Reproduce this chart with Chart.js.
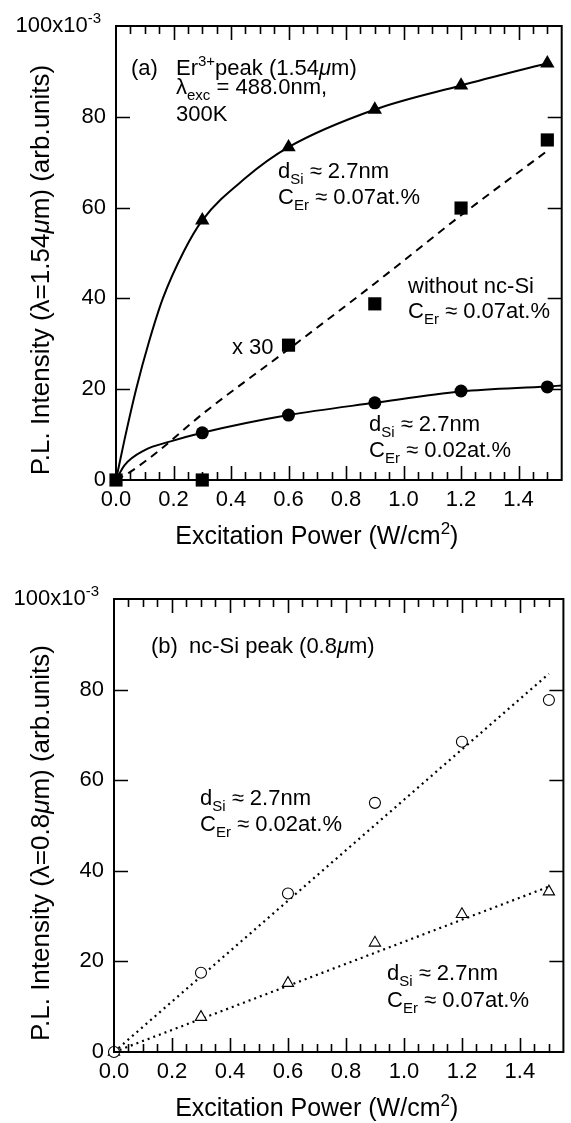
<!DOCTYPE html>
<html>
<head>
<meta charset="utf-8">
<script src="https://cdn.jsdelivr.net/npm/chart.js@4.4.1/dist/chart.umd.min.js"></script>
<style>
  body { margin: 0; background: #fff; }
  canvas { display: block; }
</style>
</head>
<body>
<canvas id="erChart" width="571" height="561"></canvas>
<canvas id="ncChart" width="571" height="562"></canvas>
<script>
// (a) Er3+ peak at 1.54 um, intensity in units of 1e-3
const powerEr = [0.3, 0.6, 0.9, 1.2, 1.5];
const erHighCEr = [57.2, 73.3, 81.6, 86.9, 91.8];   // d_Si 2.7nm, C_Er 0.07at.%
const erLowCEr = [10.4, 14.3, 17.0, 19.6, 20.5];    // d_Si 2.7nm, C_Er 0.02at.%
const powerNoNc = [0, 0.3, 0.6, 0.9, 1.2, 1.5];
const erNoNcSi = [0, 0, 29.7, 38.8, 59.9, 74.9];    // without nc-Si, x30

// guide curves drawn through the (a) points
const guideHighX = [0, 0.03, 0.07, 0.115, 0.163, 0.237, 0.3, 0.45, 0.6, 0.9, 1.2, 1.5];
const guideHighY = [0, 9, 20, 30.5, 40, 50.5, 57.2, 66.5, 73.3, 81.6, 86.9, 91.8];
const guideLowX = [0, 0.03, 0.1, 0.19, 0.3, 0.6, 0.9, 1.2, 1.5, 1.55];
const guideLowY = [0, 3.3, 6.6, 8.5, 10.4, 14.3, 17.0, 19.5, 20.6, 20.8];
const guideNoNcX = [0, 0.05, 0.15, 0.3, 0.6, 0.9, 1.2, 1.5];
const guideNoNcY = [0, 1.8, 6.5, 14.5, 28.8, 43.3, 58.3, 72.5];

// (b) nc-Si peak at 0.8 um
const powerNc = [0, 0.3, 0.6, 0.9, 1.2, 1.5];
const ncLowCEr = [0, 17.5, 35.0, 55.0, 68.5, 77.7];   // C_Er 0.02at.%
const ncHighCEr = [0, 7.7, 15.2, 24.1, 30.4, 35.4];   // C_Er 0.07at.%
const ncFitX = [0, 1.5];
const ncLowFitY = [0, 83.5];
const ncHighFitY = [0, 36.5];

const xTickLabels = ['0.0', '0.2', '0.4', '0.6', '0.8', '1.0', '1.2', '1.4'];
const yTickLabels = ['0', '20', '40', '60', '80'];

const FONT = '"Liberation Sans", Arial, Helvetica, sans-serif';
const X_MAX = 1.55;
const Y_MAX = 100;
const MINOR_STEP = 0.05;

const pts = (xs, ys) => xs.map((x, i) => ({ x: x, y: ys[i] }));

// text with sub/superscripts and italic pieces
function drawRich(ctx, parts, x, y, size, align) {
  const laid = parts.map(p => {
    const s = (p.sub || p.sup) ? Math.round(size * 0.68) : size;
    const font = (p.it ? 'italic ' : '') + s + 'px ' + FONT;
    ctx.font = font;
    return { t: p.t, sub: p.sub, sup: p.sup, font: font, w: ctx.measureText(p.t).width };
  });
  const total = laid.reduce((a, p) => a + p.w, 0);
  let cx = align === 'center' ? x - total / 2 : align === 'right' ? x - total : x;
  ctx.textAlign = 'left';
  laid.forEach(p => {
    ctx.font = p.font;
    const dy = p.sub ? size * 0.28 : p.sup ? -size * 0.42 : 0;
    ctx.fillText(p.t, cx, y + dy);
    cx += p.w;
  });
}

const dSi = [{ t: 'd' }, { t: 'Si', sub: true }, { t: ' \u2248 2.7nm' }];
const cEr = v => [{ t: 'C' }, { t: 'Er', sub: true }, { t: ' \u2248 ' + v + 'at.%' }];
const xTitle = [{ t: 'Excitation Power (W/cm' }, { t: '2', sup: true }, { t: ')' }];
const yTitle = wl => [{ t: 'P.L. Intensity (\u03bb=' + wl }, { t: '\u03bc', it: true }, { t: 'm) (arb.units)' }];

// tick positions along both axes
const xMinorTicks = [];
for (let i = 1; i * MINOR_STEP < X_MAX - 0.01; i++) xMinorTicks.push({ v: +(i * MINOR_STEP).toFixed(2), major: i % 4 === 0 });
const yMajorTicks = [20, 40, 60, 80];

// box frame, inward ticks and text
const framePlugin = {
  id: 'frame',
  afterDatasetsDraw(chart, args, opts) {
    const ctx = chart.ctx;
    const a = chart.chartArea;
    const xs = chart.scales.x;
    const ys = chart.scales.y;
    ctx.save();
    ctx.setLineDash([]);
    ctx.fillStyle = '#000';
    ctx.strokeStyle = '#000';
    ctx.lineWidth = 2;
    ctx.strokeRect(a.left, a.top, a.right - a.left, a.bottom - a.top);

    ctx.lineWidth = 1.6;
    ctx.beginPath();
    xMinorTicks.forEach(t => {
      const px = Math.round(xs.getPixelForValue(t.v)) + 0.5;
      const len = t.major ? 14 : 8;
      ctx.moveTo(px, a.bottom);
      ctx.lineTo(px, a.bottom - len);
      ctx.moveTo(px, a.top);
      ctx.lineTo(px, a.top + len);
    });
    yMajorTicks.forEach(v => {
      const py = Math.round(ys.getPixelForValue(v)) + 0.5;
      ctx.moveTo(a.left, py);
      ctx.lineTo(a.left + 14, py);
      ctx.moveTo(a.right, py);
      ctx.lineTo(a.right - 14, py);
    });
    ctx.stroke();

    ctx.textBaseline = 'alphabetic';
    drawRich(ctx, [{ t: '100x10' }, { t: '-3', sup: true }], a.left - 15, ys.getPixelForValue(Y_MAX) + 6, 22, 'right');
    drawRich(ctx, xTitle, (a.left + a.right) / 2 - 22, a.bottom + 64, 25, 'center');
    ctx.save();
    ctx.translate(49, a.top + 244);
    ctx.rotate(-Math.PI / 2);
    drawRich(ctx, opts.yTitle, 0, 0, 26, 'center');
    ctx.restore();
    opts.notes.forEach(n => drawRich(ctx, n.parts, a.left + n.dx, a.top + n.dy, 22, 'left'));
    ctx.restore();
  }
};

function makeChart(id, datasets, box, yTitleParts, notes) {
  return new Chart(document.getElementById(id), {
    type: 'scatter',
    data: { datasets: datasets },
    plugins: [framePlugin],
    options: {
      responsive: false,
      animation: false,
      devicePixelRatio: 1,
      layout: { padding: { top: box.top, right: box.right, bottom: 0, left: 0 } },
      plugins: {
        legend: { display: false },
        tooltip: { enabled: false },
        frame: { yTitle: yTitleParts, notes: notes }
      },
      scales: {
        x: {
          type: 'linear', min: 0, max: X_MAX,
          grid: { display: false, drawTicks: false },
          border: { display: false },
          ticks: {
            stepSize: 0.2, includeBounds: false, autoSkip: false, maxRotation: 0,
            padding: 7, color: '#000', font: { family: FONT, size: 22 },
            callback: (v, i) => xTickLabels[i] ?? ''
          },
          afterFit: s => { s.height = box.xHeight; }
        },
        y: {
          type: 'linear', min: 0, max: Y_MAX,
          grid: { display: false, drawTicks: false },
          border: { display: false },
          ticks: {
            stepSize: 20, padding: 10, color: '#000', font: { family: FONT, size: 22 },
            callback: (v, i) => yTickLabels[i] ?? ''
          },
          afterFit: s => { s.width = box.yWidth; }
        }
      }
    }
  });
}

const marker = (data, style, r, filled) => ({
  data: data, pointStyle: style, pointRadius: r, clip: false,
  backgroundColor: filled ? '#000' : '#fff', borderColor: '#000', borderWidth: filled ? 0 : 1.1
});
const guide = (data, dash, monotone) => ({
  data: data, showLine: true, pointRadius: 0, borderColor: '#000', borderWidth: dash && dash[0] < 3 ? 2.2 : 2,
  borderDash: dash || [], cubicInterpolationMode: monotone ? 'monotone' : 'default', tension: 0
});

makeChart('erChart', [
  marker(pts(powerEr, erHighCEr), 'triangle', 8.3, true),
  marker(pts(powerNoNc, erNoNcSi), 'rect', 9.3, true),
  marker(pts(powerEr, erLowCEr), 'circle', 6.5, true),
  guide(pts(guideHighX, guideHighY), null, true),
  guide(pts(guideLowX, guideLowY), null, true),
  guide(pts(guideNoNcX, guideNoNcY), [8, 6], true)
], { top: 26, right: 3, xHeight: 81, yWidth: 116 }, yTitle('1.54'), [
  { dx: 15, dy: 49, parts: [{ t: '(a)' }] },
  { dx: 60, dy: 49, parts: [{ t: 'Er' }, { t: '3+', sup: true }, { t: 'peak (1.54' }, { t: '\u03bc', it: true }, { t: 'm)' }] },
  { dx: 60, dy: 68, parts: [{ t: '\u03bb' }, { t: 'exc', sub: true }, { t: ' = 488.0nm,' }] },
  { dx: 60, dy: 95, parts: [{ t: '300K' }] },
  { dx: 162, dy: 152, parts: dSi },
  { dx: 162, dy: 178, parts: cEr('0.07') },
  { dx: 292, dy: 267, parts: [{ t: 'without nc-Si' }] },
  { dx: 292, dy: 292, parts: cEr('0.07') },
  { dx: 116, dy: 328, parts: [{ t: 'x 30' }] },
  { dx: 253, dy: 405, parts: dSi },
  { dx: 253, dy: 431, parts: cEr('0.02') }
]);

makeChart('ncChart', [
  marker(pts(powerNc, ncLowCEr), 'circle', 5.5, false),
  marker(pts(powerNc, ncHighCEr), 'triangle', 6.5, false),
  guide(pts(ncFitX, ncLowFitY), [2, 4], false),
  guide(pts(ncFitX, ncHighFitY), [2, 4], false)
], { top: 38, right: 4, xHeight: 71, yWidth: 114 }, yTitle('0.8'), [
  { dx: 37, dy: 54, parts: [{ t: '(b)' }] },
  { dx: 75, dy: 54, parts: [{ t: 'nc-Si peak (0.8' }, { t: '\u03bc', it: true }, { t: 'm)' }] },
  { dx: 86, dy: 206, parts: dSi },
  { dx: 86, dy: 232, parts: cEr('0.02') },
  { dx: 273, dy: 381, parts: dSi },
  { dx: 273, dy: 408, parts: cEr('0.07') }
]);
</script>
</body>
</html>
